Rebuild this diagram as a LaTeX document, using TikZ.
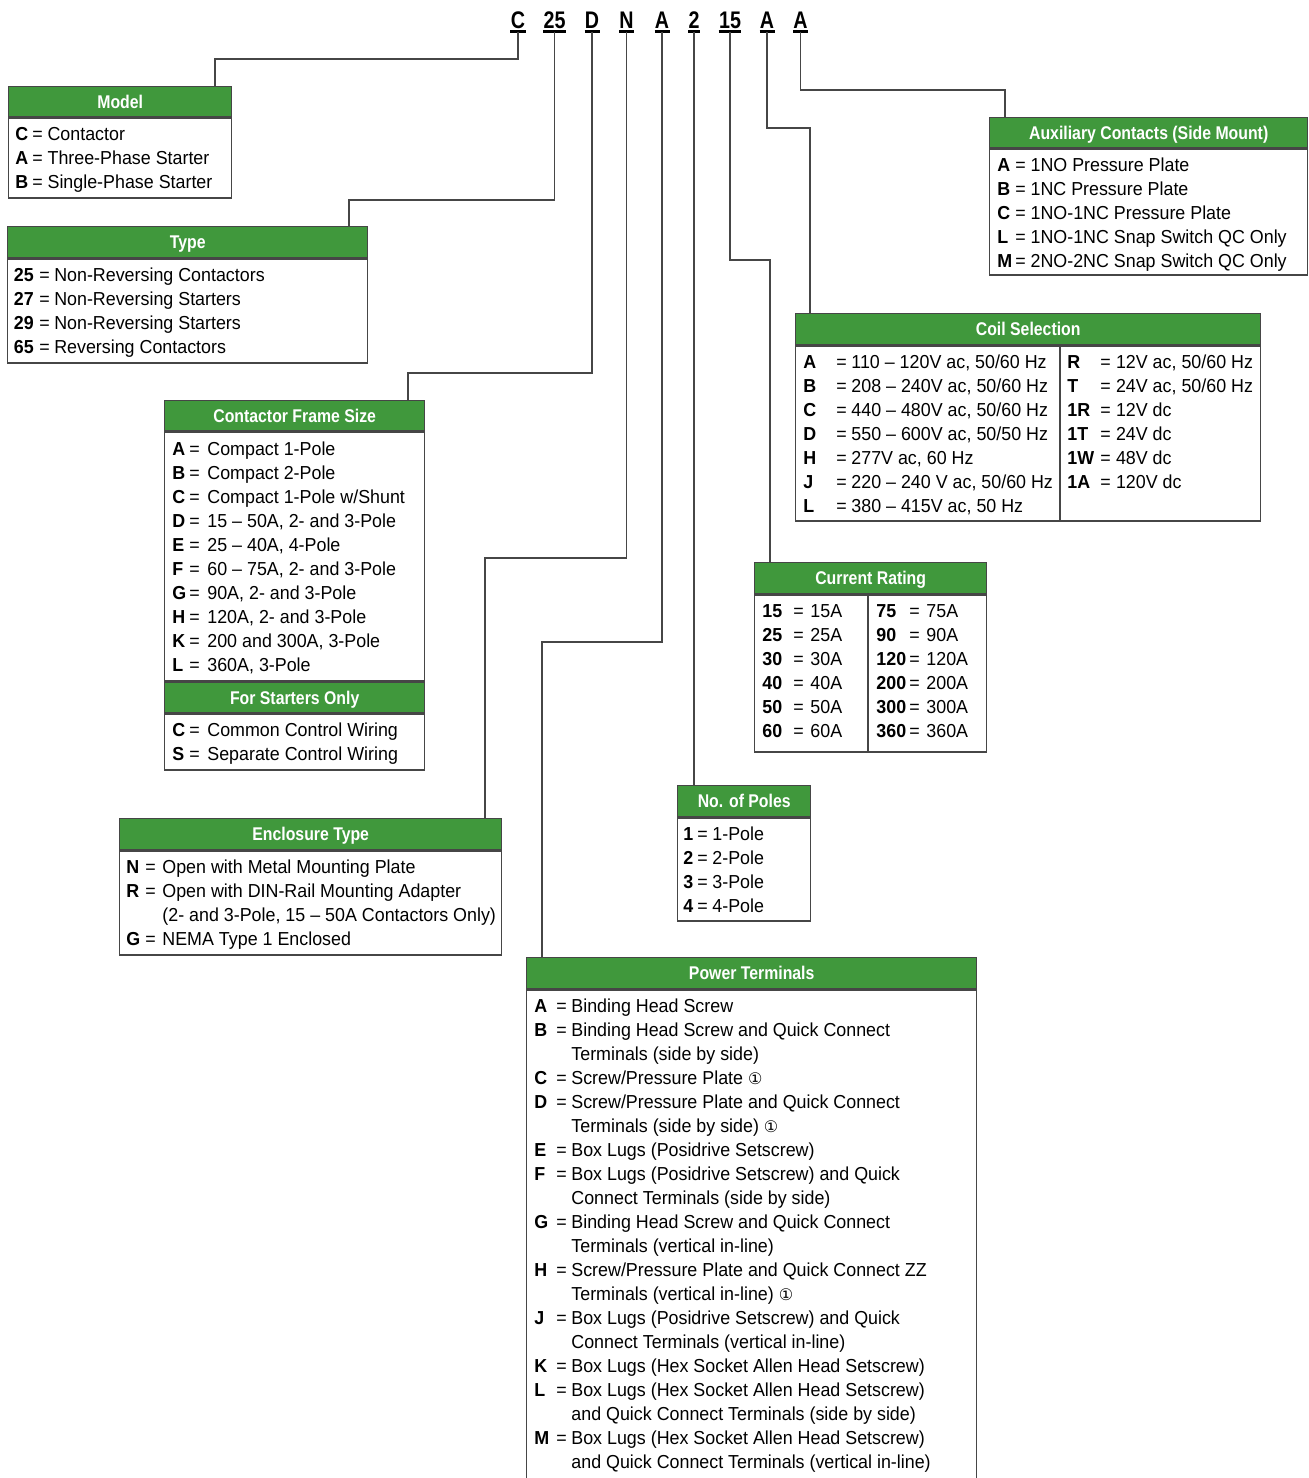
\documentclass[tikz,border=0pt]{standalone}
\usepackage{fontspec}
\usepackage{array}
\setmainfont{Liberation Sans}
\newfontfamily\bodyfamily[Ligatures=TeX,FakeStretch=0.95]{Liberation Sans}
\newfontfamily\hdrfamily[Ligatures=TeX,FakeStretch=0.86]{Liberation Sans}
\newfontfamily\codefamily[FakeStretch=0.82]{Liberation Sans}
\newfontfamily\symfamily{DejaVu Sans}
\usetikzlibrary{positioning,calc}
\definecolor{hdrgreen}{RGB}{64,152,60}
\definecolor{edgegray}{RGB}{70,70,70}
\newlength{\pxu}\setlength{\pxu}{0.5pt}
\newcommand{\bodyfont}{\bodyfamily\fontsize{9.4}{12}\selectfont}
\newcommand{\hdrfont}{\hdrfamily\bfseries\fontsize{9.2}{10}\selectfont}
\newcommand{\codefont}{\codefamily\bfseries\fontsize{12}{14}\selectfont}
\newcommand{\cone}{{\symfamily\fontsize{8}{10}\selectfont ①}}
\newcommand{\keylist}[3]{\setlength{\tabcolsep}{0pt}%
  \begin{tabular}[t]{@{}>{\bfseries}p{#1}p{#2}l@{}}#3\end{tabular}}

\begin{document}
\begin{tikzpicture}[x=0.5pt,y=-0.5pt,
    hdr/.style={draw=edgegray,fill=hdrgreen,text=white,font=\hdrfont,line width=0.7pt,
      inner sep=0pt,anchor=north west,text height=6.5pt,text depth=0pt},
    body/.style={draw=edgegray,fill=white,line width=0.7pt,inner sep=0pt,anchor=north west},
    list/.style={inner sep=0pt,anchor=base west,font=\bodyfont},
    code/.style={font=\codefont,inner sep=0pt,anchor=base},
    ubar/.style={line width=1.5pt,black},
    wire/.style={draw=edgegray,line width=0.7pt}]
  \useasboundingbox (0,0) rectangle (1309,1478);
  \clip (0,0) rectangle (1309,1478);

  % catalogue number
  \node[code] (cC) at (518,28.3) {C};
  \node[code] (c25) at (554.5,28.3) {25};
  \node[code] (cD) at (592,28.3) {D};
  \node[code] (cN) at (626.5,28.3) {N};
  \node[code] (cA) at (662,28.3) {A};
  \node[code] (c2) at (694,28.3) {2};
  \node[code] (c15) at (730,28.3) {15};
  \node[code] (cAc) at (767,28.3) {A};
  \node[code] (cAx) at (800.5,28.3) {A};
  \draw[ubar] ([yshift=-1.8pt]cC.base west) -- ([yshift=-1.8pt]cC.base east);
  \draw[ubar] ([yshift=-1.8pt]c25.base west) -- ([yshift=-1.8pt]c25.base east);
  \draw[ubar] ([yshift=-1.8pt]cD.base west) -- ([yshift=-1.8pt]cD.base east);
  \draw[ubar] ([yshift=-1.8pt]cN.base west) -- ([yshift=-1.8pt]cN.base east);
  \draw[ubar] ([yshift=-1.8pt]cA.base west) -- ([yshift=-1.8pt]cA.base east);
  \draw[ubar] ([yshift=-1.8pt]c2.base west) -- ([yshift=-1.8pt]c2.base east);
  \draw[ubar] ([yshift=-1.8pt]c15.base west) -- ([yshift=-1.8pt]c15.base east);
  \draw[ubar] ([yshift=-1.8pt]cAc.base west) -- ([yshift=-1.8pt]cAc.base east);
  \draw[ubar] ([yshift=-1.8pt]cAx.base west) -- ([yshift=-1.8pt]cAx.base east);

  % Model
  \node[hdr,minimum width=223*\pxu,minimum height=30*\pxu] (hModel) at (8,86) {Model};
  \node[body,minimum width=223*\pxu,minimum height=80*\pxu] (bModel) at (hModel.south west) {};
  \node[list] (tModel) at ($(bModel.north west)+(7,23.5)$) {\keylist{8.5pt}{7.6pt}{%
    C & = & Contactor\\
    A & = & Three-Phase Starter\\
    B & = & Single-Phase Starter}};

  % Type
  \node[hdr,minimum width=360*\pxu,minimum height=31*\pxu] (hType) at (7,226) {Type};
  \node[body,minimum width=360*\pxu,minimum height=104*\pxu] (bType) at (hType.south west) {};
  \node[list] (tType) at ($(bType.north west)+(6.5,23.5)$) {\keylist{12.7pt}{7.5pt}{%
    25 & = & Non-Reversing Contactors\\
    27 & = & Non-Reversing Starters\\
    29 & = & Non-Reversing Starters\\
    65 & = & Reversing Contactors}};

  % Contactor Frame Size
  \node[hdr,minimum width=260*\pxu,minimum height=30*\pxu] (hFrame) at (164,400) {Contactor Frame Size};
  \node[body,minimum width=260*\pxu,minimum height=249*\pxu] (bFrame) at (hFrame.south west) {};
  \node[list] (tFrame) at ($(bFrame.north west)+(8,24.5)$) {\keylist{8.5pt}{9pt}{%
    A & = & Compact 1-Pole\\
    B & = & Compact 2-Pole\\
    C & = & Compact 1-Pole w/Shunt\\
    D & = & 15 -- 50A, 2- and 3-Pole\\
    E & = & 25 -- 40A, 4-Pole\\
    F & = & 60 -- 75A, 2- and 3-Pole\\
    G & = & 90A, 2- and 3-Pole\\
    H & = & 120A, 2- and 3-Pole\\
    K & = & 200 and 300A, 3-Pole\\
    L & = & 360A, 3-Pole}};
  \node[hdr,minimum width=260*\pxu,minimum height=30*\pxu] (hStart) at (bFrame.south west) {For Starters Only};
  \node[body,minimum width=260*\pxu,minimum height=56*\pxu] (bStart) at (hStart.south west) {};
  \node[list] (tStart) at ($(bStart.north west)+(8,23.5)$) {\keylist{8.5pt}{9pt}{%
    C & = & Common Control Wiring\\
    S & = & Separate Control Wiring}};

  % Enclosure Type
  \node[hdr,minimum width=382*\pxu,minimum height=31*\pxu] (hEncl) at (119,818) {Enclosure Type};
  \node[body,minimum width=382*\pxu,minimum height=104*\pxu] (bEncl) at (hEncl.south west) {};
  \node[list] (tEncl) at ($(bEncl.north west)+(7,23.5)$) {\keylist{9.5pt}{8.5pt}{%
    N & = & Open with Metal Mounting Plate\\
    R & = & Open with DIN-Rail Mounting Adapter\\
      &   & (2- and 3-Pole, 15 -- 50A Contactors Only)\\
    G & = & NEMA Type 1 Enclosed}};

  % Power Terminals
  \node[hdr,minimum width=450*\pxu,minimum height=31*\pxu] (hPower) at (526,957) {Power Terminals};
  \node[body,minimum width=450*\pxu,minimum height=512*\pxu] (bPower) at (hPower.south west) {};
  \node[list] (tPower) at ($(bPower.north west)+(8,23.5)$) {\keylist{11pt}{7.5pt}{%
    A & = & Binding Head Screw\\
    B & = & Binding Head Screw and Quick Connect\\
      &   & Terminals (side by side)\\
    C & = & Screw/Pressure Plate \cone\\
    D & = & Screw/Pressure Plate and Quick Connect\\
      &   & Terminals (side by side) \cone\\
    E & = & Box Lugs (Posidrive Setscrew)\\
    F & = & Box Lugs (Posidrive Setscrew) and Quick\\
      &   & Connect Terminals (side by side)\\
    G & = & Binding Head Screw and Quick Connect\\
      &   & Terminals (vertical in-line)\\
    H & = & Screw/Pressure Plate and Quick Connect ZZ\\
      &   & Terminals (vertical in-line) \cone\\
    J & = & Box Lugs (Posidrive Setscrew) and Quick\\
      &   & Connect Terminals (vertical in-line)\\
    K & = & Box Lugs (Hex Socket Allen Head Setscrew)\\
    L & = & Box Lugs (Hex Socket Allen Head Setscrew)\\
      &   & and Quick Connect Terminals (side by side)\\
    M & = & Box Lugs (Hex Socket Allen Head Setscrew)\\
      &   & and Quick Connect Terminals (vertical in-line)}};

  % No. of Poles
  \node[hdr,minimum width=133*\pxu,minimum height=31*\pxu] (hPoles) at (677,785) {No. of Poles};
  \node[body,minimum width=133*\pxu,minimum height=103*\pxu] (bPoles) at (hPoles.south west) {};
  \node[list] (tPoles) at ($(bPoles.north west)+(6,23.5)$) {\keylist{7pt}{7.5pt}{%
    1 & = & 1-Pole\\
    2 & = & 2-Pole\\
    3 & = & 3-Pole\\
    4 & = & 4-Pole}};

  % Current Rating
  \node[hdr,minimum width=232*\pxu,minimum height=31*\pxu] (hCurrent) at (754,562) {Current Rating};
  \node[body,minimum width=232*\pxu,minimum height=157*\pxu] (bCurrent) at (hCurrent.south west) {};
  \draw[wire] (868,0 |- bCurrent.north) -- (868,0 |- bCurrent.south);
  \node[list] (tCurA) at ($(bCurrent.north west)+(8,23.5)$) {\keylist{15.5pt}{8.5pt}{%
    15 & = & 15A\\
    25 & = & 25A\\
    30 & = & 30A\\
    40 & = & 40A\\
    50 & = & 50A\\
    60 & = & 60A}};
  \node[list] (tCurB) at ($(bCurrent.north west)+(122,23.5)$) {\keylist{16.5pt}{8.5pt}{%
    75 & = & 75A\\
    90 & = & 90A\\
    120 & = & 120A\\
    200 & = & 200A\\
    300 & = & 300A\\
    360 & = & 360A}};

  % Coil Selection
  \node[hdr,minimum width=465*\pxu,minimum height=31*\pxu] (hCoil) at (795,313) {Coil Selection};
  \node[body,minimum width=465*\pxu,minimum height=175*\pxu] (bCoil) at (hCoil.south west) {};
  \draw[wire] (1060,0 |- bCoil.north) -- (1060,0 |- bCoil.south);
  \node[list] (tCoilA) at ($(bCoil.north west)+(8,23.5)$) {\keylist{16.5pt}{7.5pt}{%
    A & = & 110 -- 120V ac, 50/60 Hz\\
    B & = & 208 -- 240V ac, 50/60 Hz\\
    C & = & 440 -- 480V ac, 50/60 Hz\\
    D & = & 550 -- 600V ac, 50/50 Hz\\
    H & = & 277V ac, 60 Hz\\
    J & = & 220 -- 240 V ac, 50/60 Hz\\
    L & = & 380 -- 415V ac, 50 Hz}};
  \node[list] (tCoilB) at ($(bCoil.north west)+(272,23.5)$) {\keylist{16.5pt}{7.8pt}{%
    R & = & 12V ac, 50/60 Hz\\
    T & = & 24V ac, 50/60 Hz\\
    1R & = & 12V dc\\
    1T & = & 24V dc\\
    1W & = & 48V dc\\
    1A & = & 120V dc}};

  % Auxiliary Contacts
  \node[hdr,minimum width=318*\pxu,minimum height=30*\pxu] (hAux) at (989,117) {Auxiliary Contacts (Side Mount)};
  \node[body,minimum width=318*\pxu,minimum height=126*\pxu] (bAux) at (hAux.south west) {};
  \node[list] (tAux) at ($(bAux.north west)+(8,23.5)$) {\keylist{9pt}{7.6pt}{%
    A & = & 1NO Pressure Plate\\
    B & = & 1NC Pressure Plate\\
    C & = & 1NO-1NC Pressure Plate\\
    L & = & 1NO-1NC Snap Switch QC Only\\
    M & = & 2NO-2NC Snap Switch QC Only}};

  % leader lines
  \draw[wire] ([yshift=-1.8pt]cC.base) |- (215,59) -- (215,0 |- hModel.north);
  \draw[wire] ([yshift=-1.8pt]c25.base) |- (349,200) -- (349,0 |- hType.north);
  \draw[wire] ([yshift=-1.8pt]cD.base) |- (408,373) -- (408,0 |- hFrame.north);
  \draw[wire] ([yshift=-1.8pt]cN.base) |- (485,558) -- (485,0 |- hEncl.north);
  \draw[wire] ([yshift=-1.8pt]cA.base) |- (542,642) -- (542,0 |- hPower.north);
  \draw[wire] ([yshift=-1.8pt]c2.base) -- (c2.base |- hPoles.north);
  \draw[wire] ([yshift=-1.8pt]c15.base) |- (770,260) -- (770,0 |- hCurrent.north);
  \draw[wire] ([yshift=-1.8pt]cAc.base) |- (810,128) -- (810,0 |- hCoil.north);
  \draw[wire] ([yshift=-1.8pt]cAx.base) |- (1005,90) -- (1005,0 |- hAux.north);
\end{tikzpicture}
\end{document}
